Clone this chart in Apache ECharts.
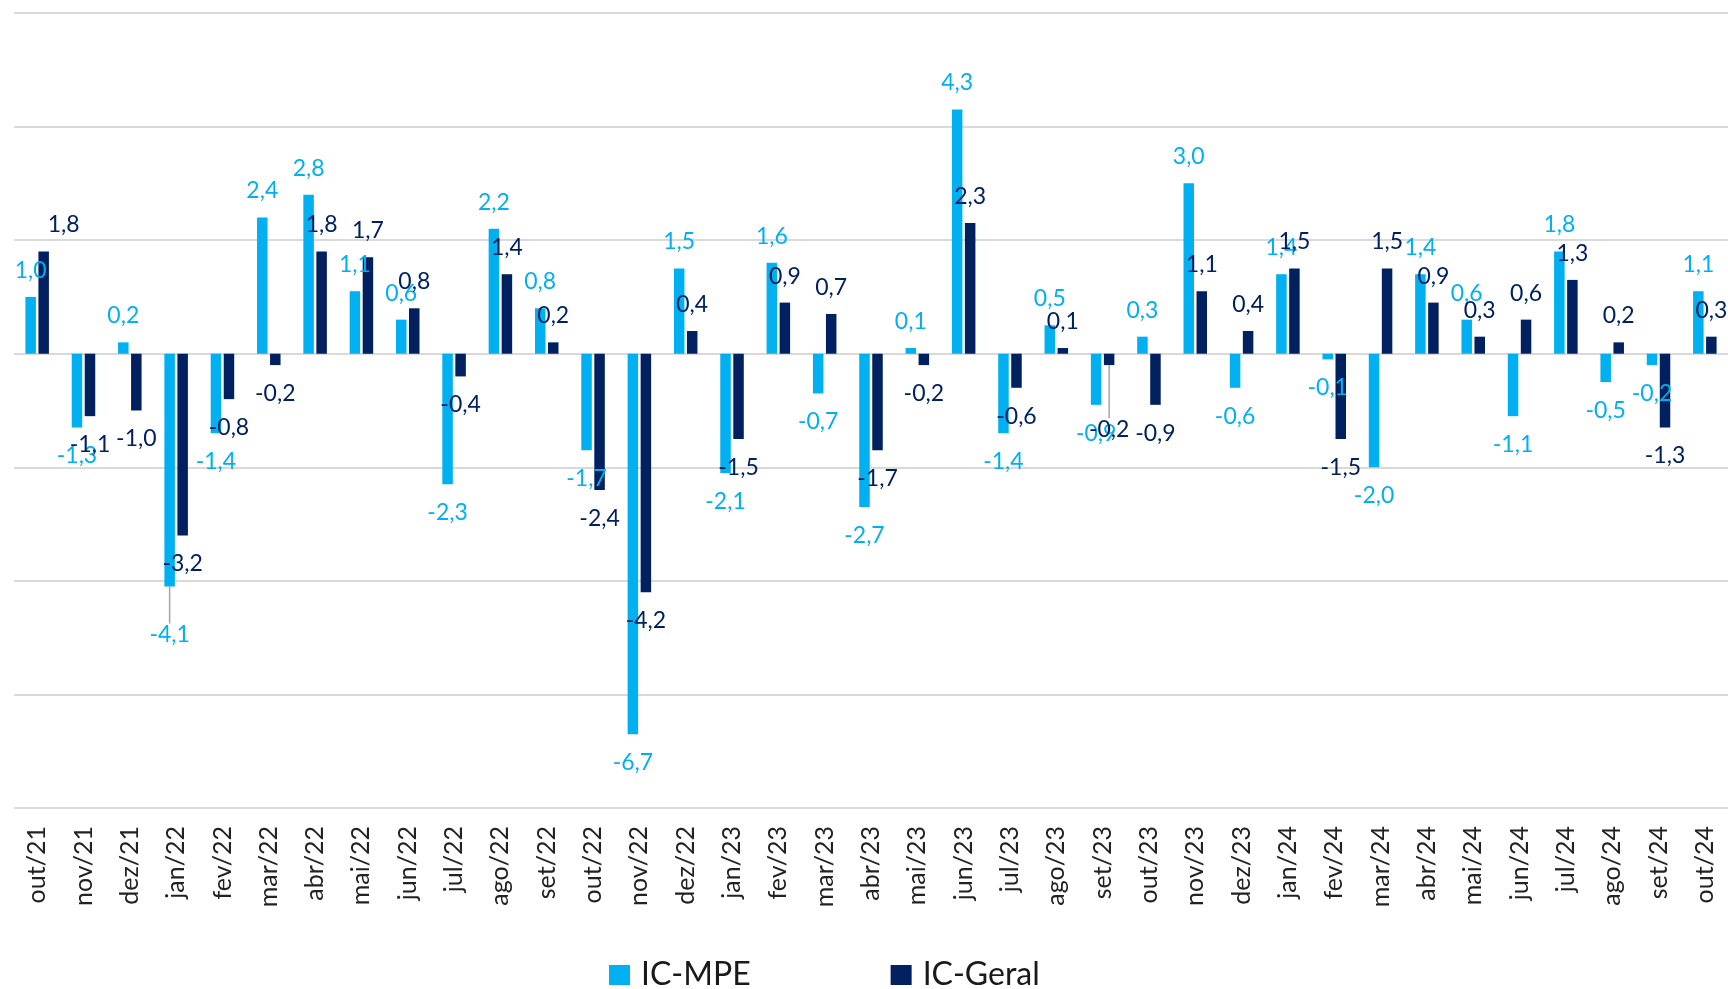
<!DOCTYPE html>
<html>
<head>
<meta charset="utf-8">
<script src="https://cdn.jsdelivr.net/npm/echarts@6/dist/echarts.min.js"></script>
<style>
  html, body { margin: 0; padding: 0; background: #ffffff; }
  #chart { width: 1728px; height: 989px; }
</style>
</head>
<body>
<div id="chart"></div>
<script>
const categories = ['out/21','nov/21','dez/21','jan/22','fev/22','mar/22','abr/22','mai/22','jun/22','jul/22','ago/22','set/22','out/22','nov/22','dez/22','jan/23','fev/23','mar/23','abr/23','mai/23','jun/23','jul/23','ago/23','set/23','out/23','nov/23','dez/23','jan/24','fev/24','mar/24','abr/24','mai/24','jun/24','jul/24','ago/24','set/24','out/24'];

const icMPE = [1.0,-1.3,0.2,-4.1,-1.4,2.4,2.8,1.1,0.6,-2.3,2.2,0.8,-1.7,-6.7,1.5,-2.1,1.6,-0.7,-2.7,0.1,4.3,-1.4,0.5,-0.9,0.3,3.0,-0.6,1.4,-0.1,-2.0,1.4,0.6,-1.1,1.8,-0.5,-0.2,1.1];

const icGeral = [1.8,-1.1,-1.0,-3.2,-0.8,-0.2,1.8,1.7,0.8,-0.4,1.4,0.2,-2.4,-4.2,0.4,-1.5,0.9,0.7,-1.7,-0.2,2.3,-0.6,0.1,-0.2,-0.9,1.1,0.4,1.5,-1.5,1.5,0.9,0.3,0.6,1.3,0.2,-1.3,0.3];

const yTicks = { min: -8, max: 6, step: 2 };

const seriesNames = ['IC-MPE', 'IC-Geral'];
const seriesColors = ['#00B0F0', '#002060'];

// manually moved data labels (as in the original), keyed "series:index"
const labelNudges = {
  '1:0': { dx: 20, dy: 0, line: false },
  '0:3': { dx: 0, dy: 20, line: true },
  '1:23': { dx: 0, dy: 36, line: true }
};

const FONT = 'Lato, "Open Sans", sans-serif';
const fmt = v => v.toFixed(1).replace('.', ',');

function buildData(values, sIdx) {
  return values.map((v, i) => {
    const n = labelNudges[sIdx + ':' + i];
    const item = {
      value: v,
      label: {
        position: v < 0 ? 'bottom' : 'top',
        distance: v < 0 ? 17 : 15
      }
    };
    if (n && n.line) {
      item.labelLine = { show: true, lineStyle: { color: '#A6A6A6', width: 1.5 } };
    }
    return item;
  });
}

const chart = echarts.init(document.getElementById('chart'), null, { renderer: 'canvas' });

const series = [icMPE, icGeral].map((vals, s) => ({
  name: seriesNames[s],
  type: 'bar',
  data: buildData(vals, s),
  barWidth: 10.5,
  barGap: '24%',
  itemStyle: { color: seriesColors[s] },
  label: {
    show: true,
    color: seriesColors[s],
    fontFamily: FONT,
    fontSize: 23,
    formatter: p => fmt(p.value)
  },
  labelLine: { show: false },
  labelLayout: function (params) {
    const n = labelNudges[s + ':' + params.dataIndex];
    if (!n) return {};
    return { dx: n.dx, dy: n.dy };
  }
}));

chart.setOption({
  animation: false,
  backgroundColor: '#ffffff',
  grid: { left: 14, right: -3, top: 13, bottom: 181, containLabel: false },
  legend: {
    data: seriesNames,
    left: 604,
    top: 954,
    icon: 'rect',
    itemWidth: 21,
    itemHeight: 20,
    itemGap: 140,
    textStyle: { fontFamily: FONT, fontSize: 32, color: '#1a1a1a', padding: [0, 0, 0, 6] }
  },
  xAxis: {
    type: 'category',
    data: categories,
    axisLine: { show: false, onZero: false },
    axisTick: { show: false },
    axisLabel: {
      rotate: 90,
      margin: 18,
      interval: 0,
      fontFamily: FONT,
      fontSize: 25,
      color: '#222222'
    },
    splitLine: { show: false }
  },
  yAxis: {
    type: 'value',
    min: yTicks.min,
    max: yTicks.max,
    interval: yTicks.step,
    axisLabel: { show: false },
    axisLine: { show: false },
    axisTick: { show: false },
    splitLine: { show: true, lineStyle: { color: '#D9D9D9', width: 2 } }
  },
  series: series
});
</script>
</body>
</html>
